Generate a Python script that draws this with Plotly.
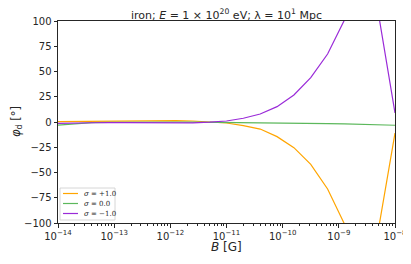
import plotly.graph_objects as go

# log10(B / G) grid
B_exp = [-14.0, -13.7, -13.4, -13.1, -12.8, -12.5, -12.2, -11.9, -11.6, -11.3,
         -11.0, -10.7, -10.4, -10.1, -9.8, -9.5, -9.2, -8.9, -8.6, -8.3, -8.0]

phi_plus = [0.3, 0.5, 0.7, 0.9, 1.1, 1.2, 1.3, 1.3, 1.0, 0.2,
            -1.0, -3.5, -7.0, -14.5, -25.4, -41.9, -66.3, -101.0, -135.0, -108.0, -11.0]
phi_zero = [-3.0, -1.5, -0.7, -0.3, -0.1, 0.0, 0.0, 0.0, -0.1, -0.2,
            -0.3, -0.5, -0.7, -0.9, -1.1, -1.3, -1.6, -1.9, -2.2, -2.6, -3.2]
phi_minus = [-1.3, -0.8, -0.5, -0.5, -0.7, -0.9, -1.1, -1.1, -0.8, -0.2,
             1.0, 3.7, 7.9, 15.2, 26.7, 43.9, 67.3, 101.0, 135.0, 109.0, 9.0]

series_names = ["<i>σ</i> = +1.0", "<i>σ</i> = 0.0", "<i>σ</i> = −1.0"]
series_values = [phi_plus, phi_zero, phi_minus]
series_colors = ["#FFA500", "#5cb85c", "#9a2bd8"]

x_tick_exps = [-14, -13, -12, -11, -10, -9, -8]
x_tick_text = ["10<sup>−%d</sup>" % (-e) for e in x_tick_exps]
y_ticks = [-100, -75, -50, -25, 0, 25, 50, 75, 100]
y_tick_text = ["−%d" % (-v) if v < 0 else str(v) for v in y_ticks]

B = [10 ** e for e in B_exp]
minor_vals = [m * 10 ** e for e in x_tick_exps[:-1] for m in range(2, 10)]

INK = "#262626"
font_main = "DejaVu Sans"

fig = go.Figure()
for name, vals, col in zip(series_names, series_values, series_colors):
    fig.add_trace(go.Scatter(x=B, y=vals, mode="lines", name=name, showlegend=False,
                             line=dict(color=col, width=1.2)))

# page body has an 8px default margin on every side; size the figure so the
# page fits the 411x264 window without scrollbars
OFF = 8
W, H = 411 - OFF, 264 - 2 * OFF
L, T = 58 - OFF, 21 - OFF
R = W - (395 - OFF)
Bm = H - (223 - OFF)
pw, ph = W - L - R, H - T - Bm


def px(x):
    return (x - OFF - L) / pw


def py(y):
    return (H - Bm - (y - OFF)) / ph


# compact matplotlib-style legend
shapes = [dict(type="rect", xref="paper", yref="paper",
               x0=px(60), x1=px(115), y0=py(220), y1=py(188),
               line=dict(color="#cccccc", width=0.8), fillcolor="rgba(255,255,255,0.85)",
               layer="above")]
annotations = []
for i, (name, col) in enumerate(zip(series_names, series_colors)):
    yy = 193.5 + 10 * i
    shapes.append(dict(type="line", xref="paper", yref="paper",
                       x0=px(63), x1=px(78), y0=py(yy), y1=py(yy),
                       line=dict(color=col, width=1.2), layer="above"))
    annotations.append(dict(x=px(82), y=py(yy), xref="paper", yref="paper",
                            text=name, showarrow=False, xanchor="left", yanchor="middle",
                            font=dict(family="DejaVu Serif", size=7, color=INK)))

# axis titles
annotations.append(dict(x=px(226.5), y=py(247.5), xref="paper", yref="paper",
                        text="<i>B</i> [G]", showarrow=False, borderpad=0,
                        xanchor="center", yanchor="middle",
                        font=dict(family=font_main, size=12, color=INK)))
annotations.append(dict(x=px(16), y=py(122), xref="paper", yref="paper",
                        text="<i>φ</i><sub>d</sub> [°]", showarrow=False, textangle=-90,
                        borderpad=0, xanchor="center", yanchor="middle",
                        font=dict(family=font_main, size=11.5, color=INK)))

fig.update_layout(
    width=W, height=H,
    margin=dict(l=L, r=R, t=T, b=Bm, autoexpand=False),
    paper_bgcolor="white", plot_bgcolor="white",
    font=dict(family=font_main, size=10, color=INK),
    title=dict(text="iron; <i>E</i> = 1 × 10<sup>20</sup> eV; λ = 10<sup>1</sup> Mpc",
               x=0.5, xanchor="center", xref="paper", yref="container",
               y=1 - (15 - OFF) / H, yanchor="middle",
               font=dict(size=11, family=font_main, color=INK)),
    showlegend=False,
    shapes=shapes,
    annotations=annotations,
)
fig.update_xaxes(
    type="log", range=[-14, -8], automargin=False,
    tickvals=[10 ** e for e in x_tick_exps], ticktext=x_tick_text,
    ticklabeloverflow="allow",
    ticks="outside", ticklen=3.5, tickwidth=1, tickcolor=INK,
    showline=True, linecolor=INK, linewidth=1, mirror=True,
    showgrid=False, zeroline=False,
    minor=dict(tickmode="array", tickvals=minor_vals, ticks="outside", ticklen=2,
               tickwidth=0.8, tickcolor=INK, showgrid=False),
    tickfont=dict(size=10),
)
fig.update_yaxes(
    range=[-100, 100], automargin=False,
    tickvals=y_ticks, ticktext=y_tick_text,
    ticks="outside", ticklen=3.5, tickwidth=1, tickcolor=INK,
    showline=True, linecolor=INK, linewidth=1, mirror=True,
    showgrid=False, zeroline=False,
    tickfont=dict(size=10),
)

fig.write_html("out.html")
